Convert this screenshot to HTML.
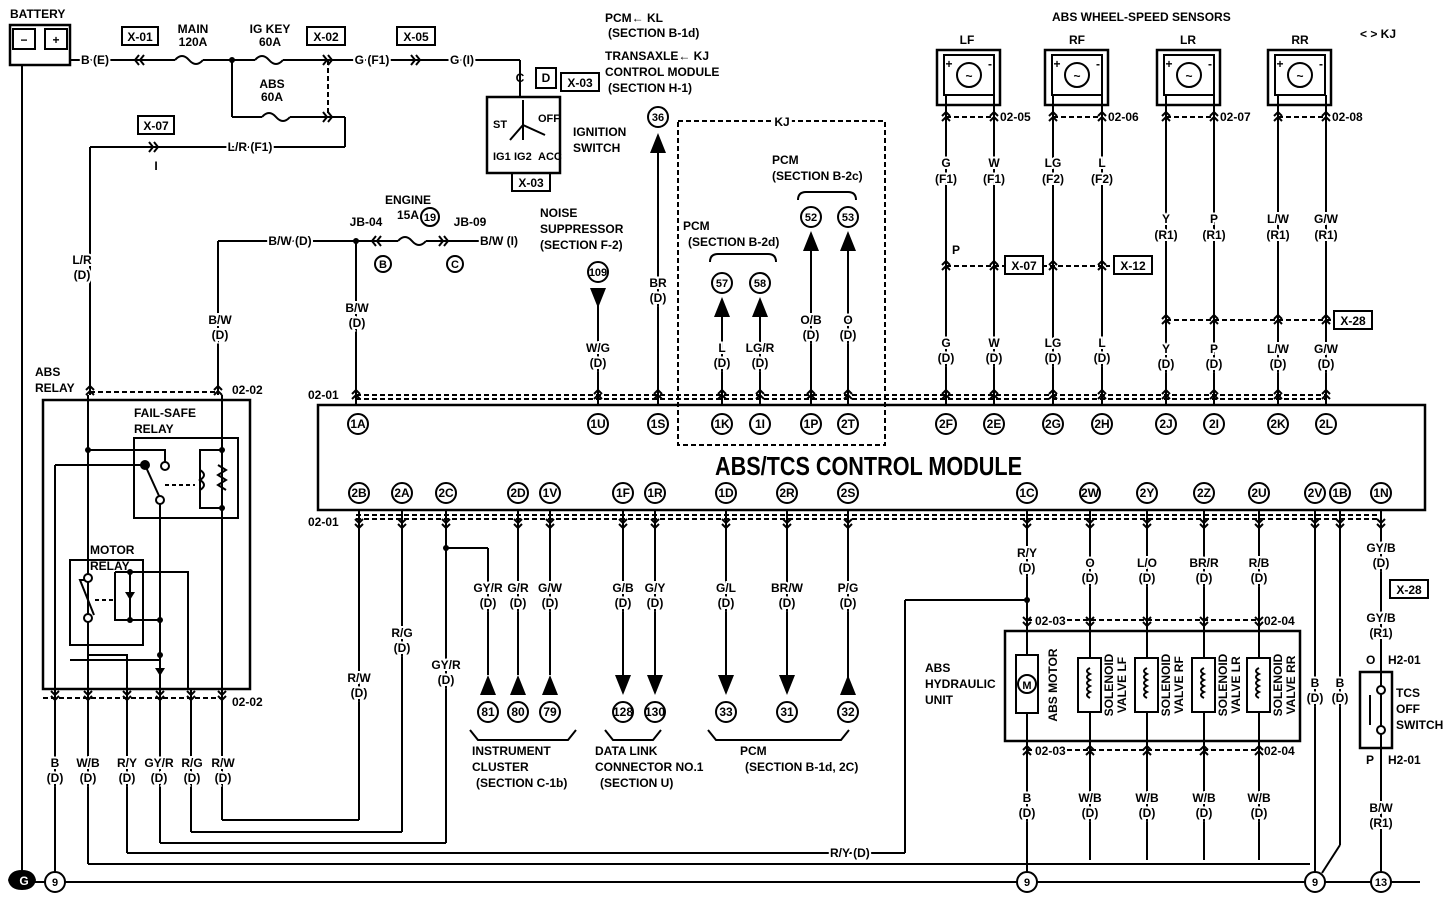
<!DOCTYPE html>
<html><head><meta charset="utf-8"><style>
html,body{margin:0;padding:0;background:#fff;}
svg{display:block;}
text{font-family:"Liberation Sans",sans-serif;font-weight:bold;font-size:12px;fill:#000;}
.m{text-anchor:middle;}
.s{font-size:11px;}
.w{stroke:#000;stroke-width:2;fill:none;}
.d{stroke:#000;stroke-width:2;fill:none;stroke-dasharray:5,3;}
.b{stroke:#000;stroke-width:2.5;fill:none;}
.c{stroke:#000;stroke-width:2;fill:#fff;}
.h{paint-order:stroke;stroke:#fff;stroke-width:4px;}
</style></head><body>
<svg width="1450" height="912" viewBox="0 0 1450 912" xmlns="http://www.w3.org/2000/svg">
<defs>
<g id="ch"><polyline points="-4,4 0,0 4,4" class="w" stroke-width="1.5"/><polyline points="-4,9 0,5 4,9" class="w" stroke-width="1.5"/></g>
<g id="cv"><polyline points="-4,-9 0,-5 4,-9" class="w" stroke-width="1.5"/><polyline points="-4,-4 0,0 4,-4" class="w" stroke-width="1.5"/></g>
<g id="cl"><polyline points="4,-5 0,0 4,5" class="w" stroke-width="1.5"/><polyline points="9,-5 5,0 9,5" class="w" stroke-width="1.5"/></g>
<g id="cr"><polyline points="-4,-5 0,0 -4,5" class="w" stroke-width="1.5"/><polyline points="-9,-5 -5,0 -9,5" class="w" stroke-width="1.5"/></g>
<g id="tu"><polygon points="-8,10 8,10 0,-10" fill="#000"/></g>
<g id="td"><polygon points="-8,-10 8,-10 0,10" fill="#000"/></g>
</defs>

<!-- battery -->
<text x="10" y="18">BATTERY</text>
<rect x="10" y="25" width="60" height="40" class="b"/>
<rect x="13" y="29" width="22" height="20" class="w"/><rect x="45" y="29" width="22" height="20" class="w"/>
<text x="24" y="44" class="m">−</text><text x="56" y="44" class="m">+</text>
<line x1="22" y1="65" x2="22" y2="870" class="w"/>
<line x1="70" y1="60" x2="175" y2="60" class="w"/>
<text x="95" y="64" class="m h">B (E)</text>
<rect x="122" y="27" width="36" height="18" class="w"/><text x="140" y="41" class="m">X-01</text>
<use href="#cl" x="135" y="60"/>
<text x="193" y="33" class="m">MAIN</text><text x="193" y="46" class="m">120A</text>
<path d="M175,60 q7,-8 14,0 q7,8 14,0" class="w"/>
<line x1="203" y1="60" x2="255" y2="60" class="w"/>
<circle cx="232" cy="60" r="3" fill="#000"/>
<path d="M255,60 q7,-8 14,0 q7,8 14,0" class="w"/>
<line x1="283" y1="60" x2="520" y2="60" class="w"/>
<text x="270" y="33" class="m">IG KEY</text><text x="270" y="46" class="m">60A</text>
<rect x="307" y="27" width="38" height="18" class="w"/><text x="326" y="41" class="m">X-02</text>
<use href="#cr" x="332" y="60"/>
<line x1="232" y1="60" x2="232" y2="117" class="w"/><line x1="232" y1="117" x2="262" y2="117" class="w"/>
<path d="M262,117 q7,-8 14,0 q7,8 14,0" class="w"/>
<line x1="290" y1="117" x2="345" y2="117" class="w"/>
<use href="#cr" x="332" y="117"/>
<text x="272" y="88" class="m">ABS</text><text x="272" y="101" class="m">60A</text>
<line x1="328" y1="60" x2="328" y2="117" class="d"/>
<line x1="345" y1="117" x2="345" y2="147" class="w"/>
<line x1="90" y1="147" x2="345" y2="147" class="w"/>
<text x="250" y="151" class="m h">L/R (F1)</text>
<rect x="138" y="116" width="36" height="18" class="w"/><text x="156" y="130" class="m">X-07</text>
<use href="#cr" x="158" y="147"/>
<text x="156" y="170" class="m">I</text>
<text x="372" y="64" class="m h">G (F1)</text>
<rect x="397" y="27" width="38" height="18" class="w"/><text x="416" y="41" class="m">X-05</text>
<use href="#cr" x="420" y="60"/>
<text x="462" y="64" class="m h">G (I)</text>
<line x1="520" y1="60" x2="520" y2="97" class="w"/>
<!-- ignition switch -->
<text x="520" y="82" class="m">C</text><text x="546" y="82" class="m">D</text>
<rect x="536" y="68" width="20" height="20" class="w"/>
<rect x="561" y="73" width="38" height="18" class="w"/><text x="580" y="87" class="m">X-03</text>
<rect x="487" y="97" width="73" height="76" class="b"/>
<text x="493" y="128" class="s">ST</text><text x="538" y="122" class="s">OFF</text><text x="493" y="160" class="s">IG1</text><text x="514" y="160" class="s">IG2</text><text x="538" y="160" class="s">ACC</text>
<line x1="523" y1="100" x2="523" y2="140" class="w"/>
<line x1="523" y1="125" x2="510" y2="140" class="w"/><line x1="523" y1="125" x2="545" y2="135" class="w"/>
<rect x="512" y="173" width="38" height="18" class="w"/><text x="531" y="187" class="m">X-03</text>
<text x="573" y="136">IGNITION</text><text x="573" y="152">SWITCH</text>
<text x="605" y="22">PCM← KL</text><text x="608" y="37">(SECTION B-1d)</text>
<text x="605" y="60">TRANSAXLE← KJ</text><text x="605" y="76">CONTROL MODULE</text><text x="608" y="92">(SECTION H-1)</text>
<circle cx="658" cy="117" r="10" class="c"/><text x="658" y="121" class="m s">36</text>
<use href="#tu" x="658" y="143"/>
<line x1="658" y1="150" x2="658" y2="405" class="w"/>
<text x="658" y="287" class="m h">BR</text><text x="658" y="302" class="m h">(D)</text>

<!-- engine fuse -->
<text x="408" y="204" class="m">ENGINE</text><text x="408" y="219" class="m">15A</text>
<circle cx="430" cy="217" r="9" class="c"/><text x="430" y="221" class="m s">19</text>
<line x1="218" y1="241" x2="398" y2="241" class="w"/>
<path d="M398,241 q7,-8 14,0 q7,8 14,0" class="w"/>
<line x1="426" y1="241" x2="500" y2="241" class="w"/>
<use href="#cl" x="372" y="241"/><use href="#cr" x="448" y="241"/>
<text x="290" y="245" class="m h">B/W (D)</text>
<text x="366" y="226" class="m">JB-04</text><text x="470" y="226" class="m">JB-09</text>
<circle cx="356" cy="241" r="3" fill="#000"/>
<text x="480" y="245" class="h">B/W (I)</text>
<circle cx="383" cy="264" r="8" class="c"/><text x="383" y="268" class="m s">B</text>
<circle cx="455" cy="264" r="8" class="c"/><text x="455" y="268" class="m s">C</text>
<line x1="218" y1="241" x2="218" y2="395" class="w"/>
<text x="220" y="324" class="m h">B/W</text><text x="220" y="339" class="m h">(D)</text>
<line x1="356" y1="241" x2="356" y2="405" class="w"/>
<text x="357" y="312" class="m h">B/W</text><text x="357" y="327" class="m h">(D)</text>
<line x1="90" y1="147" x2="90" y2="395" class="w"/>
<text x="82" y="264" class="m h">L/R</text><text x="82" y="279" class="m h">(D)</text>

<text x="540" y="217">NOISE</text><text x="540" y="233">SUPPRESSOR</text><text x="540" y="249">(SECTION F-2)</text>
<circle cx="598" cy="272" r="10" class="c"/><text x="598" y="276" class="m s">109</text>
<use href="#td" x="598" y="298"/>
<line x1="598" y1="305" x2="598" y2="405" class="w"/>
<text x="598" y="352" class="m h">W/G</text><text x="598" y="367" class="m h">(D)</text>

<!-- KJ box -->
<rect x="678" y="121" width="207" height="324" class="d"/>
<text x="782" y="126" class="m" style="paint-order:stroke;stroke:#fff;stroke-width:6px">KJ</text>
<text x="683" y="230">PCM</text><text x="688" y="246">(SECTION B-2d)</text>
<text x="772" y="164">PCM</text><text x="772" y="180">(SECTION B-2c)</text>
<path d="M710,262 q0,-8 8,-8 h50 q8,0 8,8" class="w" stroke-width="1.5"/>
<path d="M798,200 q0,-8 8,-8 h42 q8,0 8,8" class="w" stroke-width="1.5"/>
<circle cx="722" cy="283" r="10" class="c"/><text x="722" y="287" class="m s">57</text>
<circle cx="760" cy="283" r="10" class="c"/><text x="760" y="287" class="m s">58</text>
<circle cx="811" cy="217" r="10" class="c"/><text x="811" y="221" class="m s">52</text>
<circle cx="848" cy="217" r="10" class="c"/><text x="848" y="221" class="m s">53</text>
<use href="#tu" x="722" y="307"/><use href="#tu" x="760" y="307"/><use href="#tu" x="811" y="241"/><use href="#tu" x="848" y="241"/>
<line x1="722" y1="315" x2="722" y2="405" class="w"/><line x1="760" y1="315" x2="760" y2="405" class="w"/>
<line x1="811" y1="250" x2="811" y2="405" class="w"/><line x1="848" y1="250" x2="848" y2="405" class="w"/>
<g class="h">
<text x="722" y="352" class="m">L</text><text x="722" y="367" class="m">(D)</text>
<text x="760" y="352" class="m">LG/R</text><text x="760" y="367" class="m">(D)</text>
<text x="811" y="324" class="m">O/B</text><text x="811" y="339" class="m">(D)</text>
<text x="848" y="324" class="m">O</text><text x="848" y="339" class="m">(D)</text>
</g>

<!-- sensors -->
<text x="1052" y="21">ABS WHEEL-SPEED SENSORS</text>
<text x="1360" y="38">&lt; &gt; KJ</text>
<g id="sens">
<rect x="937" y="50" width="63" height="55" class="b"/>
<rect x="944" y="55" width="50" height="40" class="w"/>
<circle cx="969" cy="75" r="12" class="w"/><text x="969" y="80" class="m">~</text>
<text x="949" y="68" class="m">+</text><text x="990" y="68" class="m">-</text>
</g>
<use href="#sens" x="108"/><use href="#sens" x="220"/><use href="#sens" x="331"/>
<text x="967" y="44" class="m">LF</text><text x="1077" y="44" class="m">RF</text><text x="1188" y="44" class="m">LR</text><text x="1300" y="44" class="m">RR</text>
<g class="w">
<line x1="946" y1="95" x2="946" y2="405"/><line x1="994" y1="95" x2="994" y2="405"/>
<line x1="1053" y1="95" x2="1053" y2="405"/><line x1="1102" y1="95" x2="1102" y2="405"/>
<line x1="1166" y1="95" x2="1166" y2="405"/><line x1="1214" y1="95" x2="1214" y2="405"/>
<line x1="1278" y1="95" x2="1278" y2="405"/><line x1="1326" y1="95" x2="1326" y2="405"/>
</g>
<line x1="946" y1="117" x2="994" y2="117" class="d"/><line x1="1053" y1="117" x2="1102" y2="117" class="d"/>
<line x1="1166" y1="117" x2="1214" y2="117" class="d"/><line x1="1278" y1="117" x2="1326" y2="117" class="d"/>
<text x="1000" y="121">02-05</text><text x="1108" y="121">02-06</text><text x="1220" y="121">02-07</text><text x="1332" y="121">02-08</text>
<line x1="946" y1="266" x2="1110" y2="266" class="d"/>
<text x="952" y="254">P</text>
<rect x="1005" y="256" width="38" height="18" class="c"/><text x="1024" y="270" class="m">X-07</text>
<rect x="1114" y="256" width="38" height="18" class="c"/><text x="1133" y="270" class="m">X-12</text>
<line x1="1166" y1="320" x2="1333" y2="320" class="d"/>
<rect x="1334" y="311" width="38" height="18" class="c"/><text x="1353" y="325" class="m">X-28</text>
<g class="h">
<text x="946" y="167" class="m">G</text><text x="946" y="183" class="m">(F1)</text>
<text x="994" y="167" class="m">W</text><text x="994" y="183" class="m">(F1)</text>
<text x="1053" y="167" class="m">LG</text><text x="1053" y="183" class="m">(F2)</text>
<text x="1102" y="167" class="m">L</text><text x="1102" y="183" class="m">(F2)</text>
<text x="1166" y="223" class="m">Y</text><text x="1166" y="239" class="m">(R1)</text>
<text x="1214" y="223" class="m">P</text><text x="1214" y="239" class="m">(R1)</text>
<text x="1278" y="223" class="m">L/W</text><text x="1278" y="239" class="m">(R1)</text>
<text x="1326" y="223" class="m">G/W</text><text x="1326" y="239" class="m">(R1)</text>
<text x="946" y="347" class="m">G</text><text x="946" y="362" class="m">(D)</text>
<text x="994" y="347" class="m">W</text><text x="994" y="362" class="m">(D)</text>
<text x="1053" y="347" class="m">LG</text><text x="1053" y="362" class="m">(D)</text>
<text x="1102" y="347" class="m">L</text><text x="1102" y="362" class="m">(D)</text>
<text x="1166" y="353" class="m">Y</text><text x="1166" y="368" class="m">(D)</text>
<text x="1214" y="353" class="m">P</text><text x="1214" y="368" class="m">(D)</text>
<text x="1278" y="353" class="m">L/W</text><text x="1278" y="368" class="m">(D)</text>
<text x="1326" y="353" class="m">G/W</text><text x="1326" y="368" class="m">(D)</text>
</g>

<!-- dashed connector lines -->
<line x1="356" y1="395" x2="1326" y2="395" class="d"/>
<line x1="356" y1="399" x2="1326" y2="399" class="d"/>
<text x="308" y="399">02-01</text>
<line x1="356" y1="515" x2="1381" y2="515" class="d"/>
<line x1="356" y1="519" x2="1381" y2="519" class="d"/>
<text x="308" y="526">02-01</text>
<text x="35" y="376">ABS</text><text x="35" y="392">RELAY</text>
<line x1="90" y1="392" x2="218" y2="392" class="d"/>
<text x="232" y="394">02-02</text>
<g>
<use href="#ch" x="90" y="386"/><use href="#ch" x="218" y="386"/>
<use href="#ch" x="356" y="390"/><use href="#ch" x="598" y="390"/><use href="#ch" x="658" y="390"/><use href="#ch" x="722" y="390"/><use href="#ch" x="760" y="390"/><use href="#ch" x="811" y="390"/><use href="#ch" x="848" y="390"/>
<use href="#ch" x="946" y="390"/><use href="#ch" x="994" y="390"/><use href="#ch" x="1053" y="390"/><use href="#ch" x="1102" y="390"/><use href="#ch" x="1166" y="390"/><use href="#ch" x="1214" y="390"/><use href="#ch" x="1278" y="390"/><use href="#ch" x="1326" y="390"/>
<use href="#ch" x="946" y="112"/><use href="#ch" x="994" y="112"/><use href="#ch" x="1053" y="112"/><use href="#ch" x="1102" y="112"/><use href="#ch" x="1166" y="112"/><use href="#ch" x="1214" y="112"/><use href="#ch" x="1278" y="112"/><use href="#ch" x="1326" y="112"/>
<use href="#ch" x="946" y="261"/><use href="#ch" x="994" y="261"/><use href="#ch" x="1053" y="261"/><use href="#ch" x="1102" y="261"/>
<use href="#ch" x="1166" y="315"/><use href="#ch" x="1214" y="315"/><use href="#ch" x="1278" y="315"/><use href="#ch" x="1326" y="315"/>
</g>

<!-- module -->
<rect x="318" y="405" width="1107" height="105" class="b"/>
<text x="715" y="475" style="font-size:26px" textLength="307" lengthAdjust="spacingAndGlyphs">ABS/TCS CONTROL MODULE</text>
<g class="c">
<circle cx="358" cy="424" r="10"/><circle cx="598" cy="424" r="10"/><circle cx="658" cy="424" r="10"/><circle cx="722" cy="424" r="10"/><circle cx="760" cy="424" r="10"/><circle cx="811" cy="424" r="10"/><circle cx="848" cy="424" r="10"/>
<circle cx="946" cy="424" r="10"/><circle cx="994" cy="424" r="10"/><circle cx="1053" cy="424" r="10"/><circle cx="1102" cy="424" r="10"/><circle cx="1166" cy="424" r="10"/><circle cx="1214" cy="424" r="10"/><circle cx="1278" cy="424" r="10"/><circle cx="1326" cy="424" r="10"/>
<circle cx="359" cy="493" r="10"/><circle cx="402" cy="493" r="10"/><circle cx="446" cy="493" r="10"/><circle cx="518" cy="493" r="10"/><circle cx="550" cy="493" r="10"/><circle cx="623" cy="493" r="10"/><circle cx="655" cy="493" r="10"/><circle cx="726" cy="493" r="10"/><circle cx="787" cy="493" r="10"/><circle cx="848" cy="493" r="10"/>
<circle cx="1027" cy="493" r="10"/><circle cx="1090" cy="493" r="10"/><circle cx="1147" cy="493" r="10"/><circle cx="1204" cy="493" r="10"/><circle cx="1259" cy="493" r="10"/><circle cx="1315" cy="493" r="10"/><circle cx="1340" cy="493" r="10"/><circle cx="1381" cy="493" r="10"/>
</g>
<g class="s">
<text x="358" y="428" class="m">1A</text><text x="598" y="428" class="m">1U</text><text x="658" y="428" class="m">1S</text><text x="722" y="428" class="m">1K</text><text x="760" y="428" class="m">1I</text><text x="811" y="428" class="m">1P</text><text x="848" y="428" class="m">2T</text>
<text x="946" y="428" class="m">2F</text><text x="994" y="428" class="m">2E</text><text x="1053" y="428" class="m">2G</text><text x="1102" y="428" class="m">2H</text><text x="1166" y="428" class="m">2J</text><text x="1214" y="428" class="m">2I</text><text x="1278" y="428" class="m">2K</text><text x="1326" y="428" class="m">2L</text>
<text x="359" y="497" class="m">2B</text><text x="402" y="497" class="m">2A</text><text x="446" y="497" class="m">2C</text><text x="518" y="497" class="m">2D</text><text x="550" y="497" class="m">1V</text><text x="623" y="497" class="m">1F</text><text x="655" y="497" class="m">1R</text><text x="726" y="497" class="m">1D</text><text x="787" y="497" class="m">2R</text><text x="848" y="497" class="m">2S</text>
<text x="1027" y="497" class="m">1C</text><text x="1090" y="497" class="m">2W</text><text x="1147" y="497" class="m">2Y</text><text x="1204" y="497" class="m">2Z</text><text x="1259" y="497" class="m">2U</text><text x="1315" y="497" class="m">2V</text><text x="1340" y="497" class="m">1B</text><text x="1381" y="497" class="m">1N</text>
</g>

<!-- bottom wires from module -->
<g class="w">
<line x1="359" y1="510" x2="359" y2="820"/><line x1="359" y1="820" x2="222" y2="820"/><line x1="222" y1="820" x2="222" y2="690"/>
<line x1="402" y1="510" x2="402" y2="832"/><line x1="402" y1="832" x2="191" y2="832"/><line x1="191" y1="832" x2="191" y2="690"/>
<line x1="446" y1="510" x2="446" y2="843"/><line x1="446" y1="843" x2="160" y2="843"/><line x1="160" y1="843" x2="160" y2="690"/>
<line x1="446" y1="548" x2="488" y2="548"/><line x1="488" y1="548" x2="488" y2="675"/>
<line x1="127" y1="690" x2="127" y2="853"/><line x1="127" y1="853" x2="905" y2="853"/><line x1="905" y1="853" x2="905" y2="600"/><line x1="905" y1="600" x2="1027" y2="600"/>
<line x1="88" y1="690" x2="88" y2="864"/><line x1="88" y1="864" x2="1310" y2="864"/>
<line x1="55" y1="690" x2="55" y2="872"/>
<line x1="30" y1="882" x2="1420" y2="882"/>
<line x1="518" y1="510" x2="518" y2="675"/><line x1="550" y1="510" x2="550" y2="675"/>
<line x1="623" y1="510" x2="623" y2="680"/><line x1="655" y1="510" x2="655" y2="680"/>
<line x1="726" y1="510" x2="726" y2="680"/><line x1="787" y1="510" x2="787" y2="680"/><line x1="848" y1="510" x2="848" y2="680"/>
<line x1="1027" y1="510" x2="1027" y2="872"/>
<line x1="1090" y1="510" x2="1090" y2="860"/><line x1="1147" y1="510" x2="1147" y2="860"/><line x1="1204" y1="510" x2="1204" y2="860"/><line x1="1259" y1="510" x2="1259" y2="860"/>
<line x1="1315" y1="510" x2="1315" y2="872"/>
<line x1="1340" y1="510" x2="1340" y2="845"/><line x1="1340" y1="845" x2="1322" y2="873"/>
<line x1="1381" y1="510" x2="1381" y2="872"/>
</g>
<circle cx="1027" cy="600" r="3" fill="#000"/><circle cx="446" cy="548" r="3" fill="#000"/>
<text x="830" y="857" class="h">R/Y (D)</text>
<g class="h">
<text x="359" y="682" class="m">R/W</text><text x="359" y="697" class="m">(D)</text>
<text x="402" y="637" class="m">R/G</text><text x="402" y="652" class="m">(D)</text>
<text x="446" y="669" class="m">GY/R</text><text x="446" y="684" class="m">(D)</text>
<text x="488" y="592" class="m">GY/R</text><text x="488" y="607" class="m">(D)</text>
<text x="518" y="592" class="m">G/R</text><text x="518" y="607" class="m">(D)</text>
<text x="550" y="592" class="m">G/W</text><text x="550" y="607" class="m">(D)</text>
<text x="623" y="592" class="m">G/B</text><text x="623" y="607" class="m">(D)</text>
<text x="655" y="592" class="m">G/Y</text><text x="655" y="607" class="m">(D)</text>
<text x="726" y="592" class="m">G/L</text><text x="726" y="607" class="m">(D)</text>
<text x="787" y="592" class="m">BR/W</text><text x="787" y="607" class="m">(D)</text>
<text x="848" y="592" class="m">P/G</text><text x="848" y="607" class="m">(D)</text>
<text x="1027" y="557" class="m">R/Y</text><text x="1027" y="572" class="m">(D)</text>
<text x="1090" y="567" class="m">O</text><text x="1090" y="582" class="m">(D)</text>
<text x="1147" y="567" class="m">L/O</text><text x="1147" y="582" class="m">(D)</text>
<text x="1204" y="567" class="m">BR/R</text><text x="1204" y="582" class="m">(D)</text>
<text x="1259" y="567" class="m">R/B</text><text x="1259" y="582" class="m">(D)</text>
<text x="1315" y="687" class="m">B</text><text x="1315" y="702" class="m">(D)</text>
<text x="1340" y="687" class="m">B</text><text x="1340" y="702" class="m">(D)</text>
<text x="1381" y="552" class="m">GY/B</text><text x="1381" y="567" class="m">(D)</text>
<text x="1381" y="622" class="m">GY/B</text><text x="1381" y="637" class="m">(R1)</text>
<text x="1381" y="812" class="m">B/W</text><text x="1381" y="827" class="m">(R1)</text>
<text x="1027" y="802" class="m">B</text><text x="1027" y="817" class="m">(D)</text>
<text x="1090" y="802" class="m">W/B</text><text x="1090" y="817" class="m">(D)</text>
<text x="1147" y="802" class="m">W/B</text><text x="1147" y="817" class="m">(D)</text>
<text x="1204" y="802" class="m">W/B</text><text x="1204" y="817" class="m">(D)</text>
<text x="1259" y="802" class="m">W/B</text><text x="1259" y="817" class="m">(D)</text>
<text x="55" y="767" class="m">B</text><text x="55" y="782" class="m">(D)</text>
<text x="88" y="767" class="m">W/B</text><text x="88" y="782" class="m">(D)</text>
<text x="127" y="767" class="m">R/Y</text><text x="127" y="782" class="m">(D)</text>
<text x="159" y="767" class="m">GY/R</text><text x="159" y="782" class="m">(D)</text>
<text x="192" y="767" class="m">R/G</text><text x="192" y="782" class="m">(D)</text>
<text x="223" y="767" class="m">R/W</text><text x="223" y="782" class="m">(D)</text>
</g>
<use href="#tu" x="488" y="685"/><use href="#tu" x="518" y="685"/><use href="#tu" x="550" y="685"/>
<use href="#td" x="623" y="685"/><use href="#td" x="655" y="685"/><use href="#td" x="726" y="685"/><use href="#td" x="787" y="685"/><use href="#tu" x="848" y="685"/>
<g class="c">
<circle cx="488" cy="712" r="10"/><circle cx="518" cy="712" r="10"/><circle cx="550" cy="712" r="10"/><circle cx="623" cy="712" r="10"/><circle cx="655" cy="712" r="10"/><circle cx="726" cy="712" r="10"/><circle cx="787" cy="712" r="10"/><circle cx="848" cy="712" r="10"/>
</g>
<g class="s">
<text x="488" y="716" class="m">81</text><text x="518" y="716" class="m">80</text><text x="550" y="716" class="m">79</text><text x="623" y="716" class="m">128</text><text x="655" y="716" class="m">130</text><text x="726" y="716" class="m">33</text><text x="787" y="716" class="m">31</text><text x="848" y="716" class="m">32</text>
</g>
<path d="M470,730 l8,10 h90 l8,-10" class="w" stroke-width="1.5"/>
<path d="M605,730 l8,10 h40 l8,-10" class="w" stroke-width="1.5"/>
<path d="M708,730 l8,10 h125 l8,-10" class="w" stroke-width="1.5"/>
<text x="472" y="755">INSTRUMENT</text><text x="472" y="771">CLUSTER</text><text x="476" y="787">(SECTION C-1b)</text>
<text x="595" y="755">DATA LINK</text><text x="595" y="771">CONNECTOR NO.1</text><text x="600" y="787">(SECTION U)</text>
<text x="740" y="755">PCM</text><text x="745" y="771">(SECTION B-1d, 2C)</text>

<!-- ground circles -->
<path d="M8,880 q2,-10 14,-10 q12,0 14,10 q-2,10 -14,10 q-12,0 -14,-10z" fill="#000"/>
<text x="24" y="885" class="m" style="fill:#fff">G</text>
<g class="c">
<circle cx="55" cy="882" r="10"/><circle cx="1027" cy="882" r="10"/><circle cx="1315" cy="882" r="10"/><circle cx="1381" cy="882" r="10"/>
</g>
<text x="55" y="886" class="m s">9</text><text x="1027" y="886" class="m s">9</text><text x="1315" y="886" class="m s">9</text><text x="1381" y="886" class="m s">13</text>

<!-- ABS relay box -->
<rect x="43" y="400" width="207" height="289" class="b"/>
<text x="134" y="417">FAIL-SAFE</text><text x="134" y="433">RELAY</text>
<rect x="134" y="438" width="104" height="80" class="w"/>
<text x="90" y="554">MOTOR</text><text x="90" y="570">RELAY</text>
<rect x="70" y="560" width="73" height="85" class="w"/>
<g class="w">
<line x1="88" y1="395" x2="88" y2="690"/>
<line x1="55" y1="465" x2="55" y2="690"/><line x1="55" y1="465" x2="145" y2="465"/>
<polyline points="88,450 165,450 165,462"/>
<line x1="145" y1="465" x2="160" y2="498"/>
<line x1="160" y1="502" x2="160" y2="690"/>
<line x1="222" y1="395" x2="222" y2="690"/>
<polyline points="222,450 200,450 200,508 222,508"/>
<line x1="165" y1="485" x2="195" y2="485" stroke-dasharray="4,3"/>
<polyline points="86,580 80,580 94,615"/>
<line x1="88" y1="620" x2="88" y2="635"/><polyline points="88,635 88,655 127,655 127,690"/>
<polyline points="115,572 188,572 188,690"/>
<line x1="130" y1="572" x2="130" y2="620"/>
<polyline points="115,572 115,620 160,620"/>
<line x1="95" y1="600" x2="115" y2="600" stroke-dasharray="4,3"/>
<polyline points="70,660 160,660"/>
</g>
<circle cx="145" cy="465" r="5" fill="#000"/><circle cx="165" cy="466" r="4" class="c"/><circle cx="160" cy="500" r="4" class="c"/>
<circle cx="88" cy="578" r="4" class="c"/><circle cx="88" cy="618" r="4" class="c"/>
<path d="M218,465 l8,5 -8,5 8,5 -8,5 8,5" class="w" stroke-width="1.5"/>
<path d="M200,470 q8,5 0,10 q8,5 0,10" class="w" stroke-width="1.5"/>
<circle cx="88" cy="450" r="3" fill="#000"/><circle cx="222" cy="450" r="3" fill="#000"/><circle cx="222" cy="508" r="3" fill="#000"/>
<circle cx="130" cy="572" r="3" fill="#000"/><circle cx="130" cy="620" r="3" fill="#000"/><circle cx="160" cy="620" r="3" fill="#000"/><circle cx="160" cy="655" r="3" fill="#000"/>
<polygon points="125,592 135,592 130,600" fill="#000"/>
<polygon points="155,668 165,668 160,676" fill="#000"/>
<line x1="43" y1="698" x2="222" y2="698" class="d"/>
<text x="232" y="706">02-02</text>
<use href="#cv" x="55" y="700"/><use href="#cv" x="88" y="700"/><use href="#cv" x="127" y="700"/><use href="#cv" x="160" y="700"/><use href="#cv" x="191" y="700"/><use href="#cv" x="222" y="700"/>
<use href="#cv" x="359" y="528"/><use href="#cv" x="402" y="528"/><use href="#cv" x="446" y="528"/><use href="#cv" x="518" y="528"/><use href="#cv" x="550" y="528"/><use href="#cv" x="623" y="528"/><use href="#cv" x="655" y="528"/><use href="#cv" x="726" y="528"/><use href="#cv" x="787" y="528"/><use href="#cv" x="848" y="528"/>
<use href="#cv" x="1027" y="528"/><use href="#cv" x="1090" y="528"/><use href="#cv" x="1147" y="528"/><use href="#cv" x="1204" y="528"/><use href="#cv" x="1259" y="528"/><use href="#cv" x="1315" y="528"/><use href="#cv" x="1340" y="528"/><use href="#cv" x="1381" y="528"/>

<!-- hydraulic unit -->
<text x="925" y="672">ABS</text><text x="925" y="688">HYDRAULIC</text><text x="925" y="704">UNIT</text>
<rect x="1005" y="631" width="295" height="110" fill="#fff" class="b"/>
<line x1="1027" y1="620" x2="1259" y2="620" class="d"/><line x1="1027" y1="750" x2="1259" y2="750" class="d"/>
<use href="#cv" x="1027" y="626"/><use href="#cv" x="1090" y="626"/><use href="#cv" x="1147" y="626"/><use href="#cv" x="1204" y="626"/><use href="#cv" x="1259" y="626"/>
<use href="#ch" x="1027" y="746"/><use href="#ch" x="1090" y="746"/><use href="#ch" x="1147" y="746"/><use href="#ch" x="1204" y="746"/><use href="#ch" x="1259" y="746"/>
<text x="1035" y="625" class="h">02-03</text><text x="1264" y="625">02-04</text>
<text x="1035" y="755" class="h">02-03</text><text x="1264" y="755">02-04</text>
<line x1="1027" y1="631" x2="1027" y2="741" class="w"/>
<line x1="1090" y1="631" x2="1090" y2="741" class="w"/><line x1="1147" y1="631" x2="1147" y2="741" class="w"/><line x1="1204" y1="631" x2="1204" y2="741" class="w"/><line x1="1259" y1="631" x2="1259" y2="741" class="w"/>
<rect x="1016" y="655" width="22" height="58" class="c"/>
<circle cx="1027" cy="684" r="9" class="w"/><text x="1027" y="689" class="m s">M</text>
<rect x="1078" y="658" width="23" height="54" class="c"/>
<rect x="1135" y="658" width="23" height="54" class="c"/>
<rect x="1192" y="658" width="23" height="54" class="c"/>
<rect x="1247" y="658" width="23" height="54" class="c"/>
<g class="w" stroke-width="1.5">
<path d="M1090,668 q-6,3 0,6 q-6,3 0,6 q-6,3 0,6 q-6,3 0,6 q-6,3 0,6"/>
<path d="M1147,668 q-6,3 0,6 q-6,3 0,6 q-6,3 0,6 q-6,3 0,6 q-6,3 0,6"/>
<path d="M1204,668 q-6,3 0,6 q-6,3 0,6 q-6,3 0,6 q-6,3 0,6 q-6,3 0,6"/>
<path d="M1259,668 q-6,3 0,6 q-6,3 0,6 q-6,3 0,6 q-6,3 0,6 q-6,3 0,6"/>
</g>
<text transform="translate(1057,685) rotate(-90)" class="m">ABS MOTOR</text>
<text transform="translate(1113,685) rotate(-90)" class="m">SOLENOID</text><text transform="translate(1126,685) rotate(-90)" class="m">VALVE LF</text>
<text transform="translate(1170,685) rotate(-90)" class="m">SOLENOID</text><text transform="translate(1183,685) rotate(-90)" class="m">VALVE RF</text>
<text transform="translate(1227,685) rotate(-90)" class="m">SOLENOID</text><text transform="translate(1240,685) rotate(-90)" class="m">VALVE LR</text>
<text transform="translate(1282,685) rotate(-90)" class="m">SOLENOID</text><text transform="translate(1295,685) rotate(-90)" class="m">VALVE RR</text>

<!-- TCS switch -->
<rect x="1390" y="580" width="38" height="18" class="c"/><text x="1409" y="594" class="m">X-28</text>
<text x="1366" y="664">O</text><text x="1388" y="664">H2-01</text>
<text x="1366" y="764">P</text><text x="1388" y="764">H2-01</text>
<rect x="1360" y="672" width="32" height="76" class="b" fill="#fff"/>
<line x1="1381" y1="672" x2="1381" y2="748" class="w"/>
<line x1="1370" y1="695" x2="1370" y2="725" class="w"/>
<circle cx="1381" cy="690" r="4" class="c"/><circle cx="1381" cy="730" r="4" class="c"/>
<text x="1396" y="697">TCS</text><text x="1396" y="713">OFF</text><text x="1396" y="729">SWITCH</text>
</svg>
</body></html>
